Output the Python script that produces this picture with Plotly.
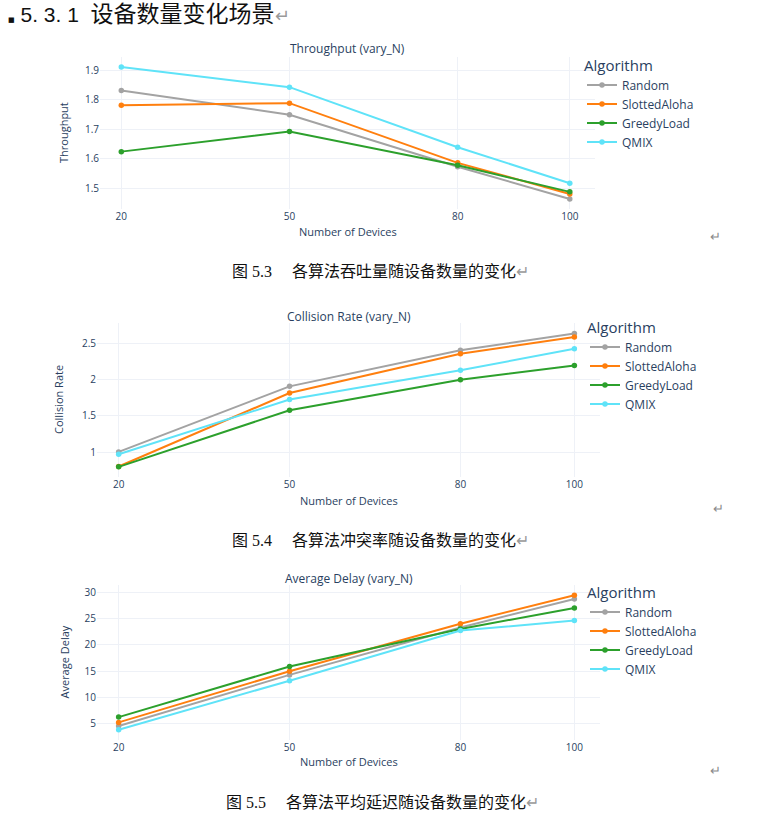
import plotly.graph_objects as go

FW, FH = 758, 820

devices = [20, 50, 80, 100]
algorithms = ["Random", "SlottedAloha", "GreedyLoad", "QMIX"]
colors = ["#a3a3a3", "#ff7f0e", "#2ca02c", "#5fe3f8"]

throughput_random = [1.831, 1.749, 1.573, 1.464]
throughput_slotted = [1.781, 1.788, 1.586, 1.481]
throughput_greedy = [1.624, 1.692, 1.578, 1.488]
throughput_qmix = [1.910, 1.842, 1.639, 1.517]

collision_random = [1.005, 1.908, 2.404, 2.637]
collision_slotted = [0.804, 1.816, 2.357, 2.586]
collision_greedy = [0.800, 1.579, 2.000, 2.196]
collision_qmix = [0.973, 1.726, 2.128, 2.426]

delay_random = [4.6, 14.3, 23.3, 28.7]
delay_slotted = [5.3, 15.0, 24.0, 29.4]
delay_greedy = [6.3, 15.9, 23.0, 27.0]
delay_qmix = [3.9, 13.2, 22.7, 24.6]

heading_num = "5. 3. 1"
heading_text = "设备数量变化场景"
chart_titles = ["Throughput (vary_N)", "Collision Rate (vary_N)", "Average Delay (vary_N)"]
y_titles = ["Throughput", "Collision Rate", "Average Delay"]
x_title = "Number of Devices"
caption_nums = ["图 5.3", "图 5.4", "图 5.5"]
caption_texts = ["各算法吞吐量随设备数量的变化",
                 "各算法冲突率随设备数量的变化",
                 "各算法平均延迟随设备数量的变化"]

panels = [
    dict(series=[throughput_random, throughput_slotted, throughput_greedy, throughput_qmix],
         px_x=(100, 595), px_y=(57, 209), yrange=[1.43, 1.944],
         ytick=[1.5, 1.6, 1.7, 1.8, 1.9], ytext=["1.5", "1.6", "1.7", "1.8", "1.9"],
         title_y=48, ytitle_x=63, xlab_y=231, leg=(582, 51), cap_y=271, cap_x=380,
         ret=(715, 236)),
    dict(series=[collision_random, collision_slotted, collision_greedy, collision_qmix],
         px_x=(97, 600), px_y=(323, 477), yrange=[0.66, 2.78],
         ytick=[1, 1.5, 2, 2.5], ytext=["1", "1.5", "2", "2.5"],
         title_y=316, ytitle_x=58, xlab_y=500, leg=(585, 313), cap_y=540, cap_x=380,
         ret=(718, 508)),
    dict(series=[delay_random, delay_slotted, delay_greedy, delay_qmix],
         px_x=(97, 600), px_y=(585, 740), yrange=[1.96, 31.34],
         ytick=[5, 10, 15, 20, 25, 30], ytext=["5", "10", "15", "20", "25", "30"],
         title_y=578, ytitle_x=64, xlab_y=761, leg=(585, 578), cap_y=802, cap_x=382,
         ret=(715, 770)),
]


def px2x(p):
    return p / FW


def px2y(p):
    return 1 - p / FH


fig = go.Figure()
font_color = "#2a3f5f"
annotations = []
layout = {}
cap_font = "Liberation Serif, Noto Sans CJK SC, serif"

for i, pnl in enumerate(panels):
    n = "" if i == 0 else str(i + 1)
    xa, ya = "x" + n, "y" + n
    leg = "legend" + n
    for name, vals, col in zip(algorithms, pnl["series"], colors):
        fig.add_trace(go.Scatter(
            x=devices, y=vals, name=name, mode="lines+markers",
            line=dict(color=col, width=2), marker=dict(color=col, size=5.5),
            xaxis=xa, yaxis=ya, legend=leg))
    layout["xaxis" + n] = dict(
        domain=[px2x(pnl["px_x"][0]), px2x(pnl["px_x"][1])],
        anchor=ya, range=[16.2, 104.5], tickvals=devices,
        ticktext=[str(d) for d in devices],
        showgrid=True, gridcolor="#eef1f7", zeroline=False, showline=False,
        tickfont=dict(size=10, color=font_color), ticks="",
        title=None)
    layout["yaxis" + n] = dict(
        domain=[px2y(pnl["px_y"][1]), px2y(pnl["px_y"][0])],
        anchor=xa, range=pnl["yrange"], tickvals=pnl["ytick"], ticktext=pnl["ytext"],
        showgrid=True, gridcolor="#eef1f7", zeroline=False, showline=False,
        tickfont=dict(size=10, color=font_color), ticks="",
        title=None)
    layout[leg] = dict(
        x=px2x(pnl["leg"][0]), y=px2y(pnl["leg"][1]), xref="paper", yref="paper",
        xanchor="left", yanchor="top",
        title=dict(text="Algorithm", font=dict(size=15, color=font_color)),
        font=dict(size=12, color=font_color), bgcolor="rgba(0,0,0,0)",
        tracegroupgap=0, itemwidth=30)
    cx = (pnl["px_x"][0] + pnl["px_x"][1]) / 2
    cy = (pnl["px_y"][0] + pnl["px_y"][1]) / 2
    annotations.append(dict(text=chart_titles[i], x=px2x(cx), y=px2y(pnl["title_y"]),
                            xanchor="center", yanchor="middle",
                            xref="paper", yref="paper", showarrow=False,
                            font=dict(size=12, color=font_color)))
    annotations.append(dict(text=x_title, x=px2x(cx), y=px2y(pnl["xlab_y"]),
                            xanchor="center", yanchor="middle",
                            xref="paper", yref="paper", showarrow=False,
                            font=dict(size=11, color=font_color)))
    annotations.append(dict(text=y_titles[i], x=px2x(pnl["ytitle_x"]), y=px2y(cy),
                            xanchor="center", yanchor="middle",
                            xref="paper", yref="paper", showarrow=False, textangle=-90,
                            font=dict(size=11, color=font_color)))
    annotations.append(dict(
        text=(caption_nums[i] + "　 " + caption_texts[i]
              + "<span style='color:#9a9a9a'>↵</span>"),
        x=px2x(pnl["cap_x"]), y=px2y(pnl["cap_y"]),
        xanchor="center", yanchor="middle",
        xref="paper", yref="paper", showarrow=False,
        font=dict(size=16, color="#111111", family=cap_font)))
    annotations.append(dict(text="↵", x=px2x(pnl["ret"][0]), y=px2y(pnl["ret"][1]),
                            xanchor="center", yanchor="middle",
                            xref="paper", yref="paper", showarrow=False,
                            font=dict(size=13, color="#8a8a8a")))

annotations.append(dict(
    text=("<span style='font-size:7px;font-family:DejaVu Sans'>■</span> " + heading_num
          + "  <span style='font-size:23px'>" + heading_text + "</span>"
          + "<span style='color:#9a9a9a;font-size:18px'>↵</span>"),
    x=px2x(6), y=px2y(14), xref="paper", yref="paper",
    xanchor="left", yanchor="middle", showarrow=False,
    font=dict(size=21, color="#111111",
              family="Liberation Sans, Noto Sans CJK SC, sans-serif")))

fig.update_layout(
    width=FW, height=FH, margin=dict(l=0, r=0, t=0, b=0, autoexpand=False),
    paper_bgcolor="white", plot_bgcolor="white",
    font=dict(family="Open Sans, sans-serif", color=font_color),
    annotations=annotations, showlegend=True, **layout)

fig.write_html("out.html", config={"displayModeBar": False},
               post_script="document.body.style.margin='0';")
